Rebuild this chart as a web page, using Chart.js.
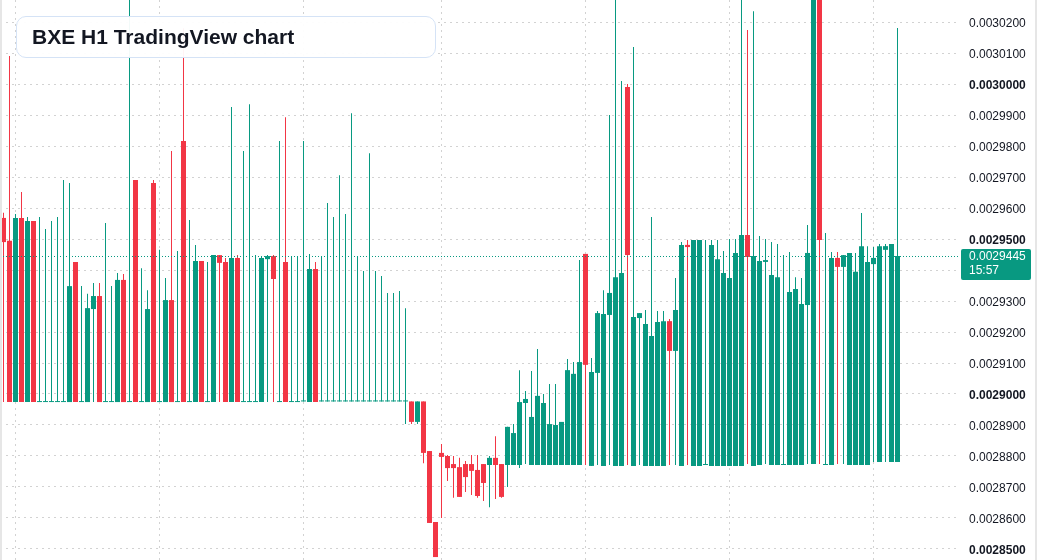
<!DOCTYPE html>
<html>
<head>
<meta charset="utf-8">
<title>BXE H1 TradingView chart</title>
<script src="https://cdn.jsdelivr.net/npm/chart.js@4.4.1/dist/chart.umd.min.js"></script>
<style>
  html, body { margin: 0; padding: 0; background: #fff; }
  #wrap { position: relative; width: 1037px; height: 560px; overflow: hidden; }
  #priceChart { display: block; }
  #title {
    position: absolute; left: 16px; top: 16px; width: 420px; height: 42px;
    box-sizing: border-box; border: 1px solid #d5e3f6; border-radius: 10px;
    background: rgba(255, 255, 255, 0.95);
    font: bold 21px "Liberation Sans", Arial, sans-serif; color: #131722;
    line-height: 40px; padding-left: 15px; white-space: nowrap;
  }
</style>
</head>
<body>
<div id="wrap">
  <canvas id="priceChart" width="1037" height="560"></canvas>
  <div id="title">BXE H1 TradingView chart</div>
</div>
<script>
// H1 candles, oldest first
const opens = [
  0.0029568, 0.0029494, 0.0028974, 0.0029568, 0.0028974, 0.0029558, 0.0028974, 0.0028974, 0.0028974, 0.0028974,
  0.0028974, 0.0028974, 0.0029426, 0.0028974, 0.0028974, 0.0029274, 0.0029316, 0.0028974, 0.0028974, 0.0028974,
  0.0029368, 0.0028974, 0.0029690, 0.0028974, 0.0028974, 0.0029681, 0.0028974, 0.0028974, 0.0029303, 0.0028974,
  0.0029816, 0.0028974, 0.0028974, 0.0029429, 0.0028974, 0.0028974, 0.0029448, 0.0029426, 0.0028974, 0.0029439,
  0.0028974, 0.0028974, 0.0028974, 0.0028974, 0.0029435, 0.0029445, 0.0028974, 0.0029426, 0.0028974, 0.0028974,
  0.0028976, 0.0028974, 0.0029403, 0.0028976, 0.0028976, 0.0028976, 0.0028976, 0.0028976, 0.0028976, 0.0028976,
  0.0028976, 0.0028976, 0.0028976, 0.0028976, 0.0028976, 0.0028976, 0.0028976, 0.0028976, 0.0028976, 0.0028910,
  0.0028976, 0.0028816, 0.0028587, 0.0028810, 0.0028800, 0.0028774, 0.0028764, 0.0028774, 0.0028774, 0.0028755,
  0.0028774, 0.0028771, 0.0028794, 0.0028774, 0.0028771, 0.0028771, 0.0028771, 0.0028971, 0.0028771, 0.0028771,
  0.0028771, 0.0028771, 0.0028771, 0.0028771, 0.0028771, 0.0028771, 0.0028771, 0.0029452, 0.0028768, 0.0029068,
  0.0028768, 0.0029255, 0.0028768, 0.0028768, 0.0029990, 0.0028768, 0.0029245, 0.0028768, 0.0028768, 0.0028768,
  0.0028768, 0.0029235, 0.0029139, 0.0028768, 0.0029481, 0.0028768, 0.0028768, 0.0028771, 0.0028768, 0.0028768,
  0.0028768, 0.0028768, 0.0028768, 0.0028768, 0.0029513, 0.0028768, 0.0028771, 0.0029426, 0.0028771, 0.0028771,
  0.0028771, 0.0028771, 0.0028771, 0.0028771, 0.0029287, 0.0028774, 0.0030400, 0.0028771, 0.0028771, 0.0029439,
  0.0029410, 0.0028771, 0.0028771, 0.0028771, 0.0028771, 0.0029419, 0.0028781, 0.0029465, 0.0028781, 0.0028781
];
const highs = [
  0.0029585, 0.0030090, 0.0029581, 0.0029652, 0.0029571, 0.0029558, 0.0029571, 0.0029532, 0.0029558, 0.0029571,
  0.0029690, 0.0029681, 0.0029426, 0.0029348, 0.0029323, 0.0029358, 0.0029358, 0.0029552, 0.0029348, 0.0029390,
  0.0029387, 0.0030350, 0.0029690, 0.0029406, 0.0029335, 0.0029690, 0.0029465, 0.0029374, 0.0029784, 0.0029461,
  0.0030180, 0.0029561, 0.0029481, 0.0029429, 0.0029426, 0.0029448, 0.0029448, 0.0029439, 0.0029926, 0.0029448,
  0.0029784, 0.0029935, 0.0029448, 0.0029445, 0.0029448, 0.0029448, 0.0029816, 0.0029893, 0.0029445, 0.0029445,
  0.0029816, 0.0029452, 0.0029426, 0.0029442, 0.0029616, 0.0029571, 0.0029706, 0.0029581, 0.0029906, 0.0029442,
  0.0029397, 0.0029777, 0.0029397, 0.0029381, 0.0029326, 0.0029326, 0.0029332, 0.0029277, 0.0028976, 0.0028976,
  0.0028976, 0.0028816, 0.0028587, 0.0028839, 0.0028803, 0.0028800, 0.0028794, 0.0028784, 0.0028803, 0.0028803,
  0.0028774, 0.0028800, 0.0028864, 0.0028774, 0.0028894, 0.0028903, 0.0029077, 0.0029010, 0.0029074, 0.0029145,
  0.0029000, 0.0029032, 0.0029032, 0.0028910, 0.0029113, 0.0029103, 0.0029432, 0.0029452, 0.0029116, 0.0029268,
  0.0029335, 0.0029900, 0.0030350, 0.0030010, 0.0030000, 0.0030119, 0.0029261, 0.0029271, 0.0029571, 0.0029268,
  0.0029268, 0.0029242, 0.0029374, 0.0029490, 0.0029497, 0.0029497, 0.0029497, 0.0029497, 0.0029497, 0.0029497,
  0.0029461, 0.0029500, 0.0029500, 0.0030350, 0.0030174, 0.0030235, 0.0029510, 0.0029500, 0.0029490, 0.0029484,
  0.0029448, 0.0029458, 0.0029377, 0.0029374, 0.0029545, 0.0030400, 0.0030400, 0.0029519, 0.0029458, 0.0029458,
  0.0029448, 0.0029455, 0.0029455, 0.0029584, 0.0029477, 0.0029474, 0.0029484, 0.0029484, 0.0029484, 0.0030181
];
const lows = [
  0.0028974, 0.0028974, 0.0028974, 0.0028974, 0.0028974, 0.0028974, 0.0028974, 0.0028974, 0.0028974, 0.0028974,
  0.0028974, 0.0028974, 0.0028974, 0.0028974, 0.0028974, 0.0028974, 0.0028974, 0.0028974, 0.0028974, 0.0028974,
  0.0028974, 0.0028974, 0.0028974, 0.0028974, 0.0028974, 0.0028974, 0.0028974, 0.0028974, 0.0028974, 0.0028974,
  0.0028974, 0.0028974, 0.0028974, 0.0028974, 0.0028974, 0.0028974, 0.0028974, 0.0028974, 0.0028974, 0.0028974,
  0.0028974, 0.0028974, 0.0028974, 0.0028974, 0.0028974, 0.0028974, 0.0028974, 0.0028974, 0.0028974, 0.0028974,
  0.0028976, 0.0028974, 0.0028974, 0.0028976, 0.0028976, 0.0028976, 0.0028976, 0.0028976, 0.0028976, 0.0028976,
  0.0028976, 0.0028976, 0.0028976, 0.0028976, 0.0028976, 0.0028976, 0.0028976, 0.0028903, 0.0028903, 0.0028903,
  0.0028777, 0.0028584, 0.0028474, 0.0028600, 0.0028719, 0.0028665, 0.0028668, 0.0028684, 0.0028674, 0.0028665,
  0.0028655, 0.0028635, 0.0028661, 0.0028665, 0.0028700, 0.0028771, 0.0028761, 0.0028774, 0.0028771, 0.0028771,
  0.0028771, 0.0028771, 0.0028771, 0.0028771, 0.0028771, 0.0028771, 0.0028771, 0.0028771, 0.0028768, 0.0028771,
  0.0028768, 0.0028771, 0.0028768, 0.0028768, 0.0028771, 0.0028768, 0.0028771, 0.0028768, 0.0028768, 0.0028768,
  0.0028768, 0.0028771, 0.0028771, 0.0028768, 0.0028771, 0.0028768, 0.0028768, 0.0028771, 0.0028768, 0.0028768,
  0.0028768, 0.0028768, 0.0028768, 0.0028768, 0.0028774, 0.0028768, 0.0028771, 0.0028774, 0.0028771, 0.0028771,
  0.0028771, 0.0028771, 0.0028771, 0.0028771, 0.0028774, 0.0028774, 0.0028774, 0.0028771, 0.0028771, 0.0028774,
  0.0028774, 0.0028771, 0.0028771, 0.0028771, 0.0028771, 0.0028781, 0.0028781, 0.0028781, 0.0028781, 0.0028781
];
const closes = [
  0.0029490, 0.0028974, 0.0029568, 0.0028974, 0.0029558, 0.0028974, 0.0028974, 0.0028974, 0.0028974, 0.0028974,
  0.0028974, 0.0029348, 0.0028974, 0.0028974, 0.0029277, 0.0029316, 0.0028974, 0.0028974, 0.0028974, 0.0029368,
  0.0028974, 0.0028974, 0.0028974, 0.0028974, 0.0029274, 0.0028974, 0.0028974, 0.0029303, 0.0028974, 0.0028974,
  0.0028974, 0.0028974, 0.0029429, 0.0028974, 0.0028974, 0.0029448, 0.0029423, 0.0028974, 0.0029439, 0.0028974,
  0.0028974, 0.0028974, 0.0028974, 0.0029439, 0.0029445, 0.0029371, 0.0028974, 0.0028974, 0.0028974, 0.0028974,
  0.0028976, 0.0029403, 0.0028974, 0.0028976, 0.0028976, 0.0028976, 0.0028976, 0.0028976, 0.0028976, 0.0028976,
  0.0028976, 0.0028976, 0.0028976, 0.0028976, 0.0028976, 0.0028976, 0.0028976, 0.0028976, 0.0028910, 0.0028976,
  0.0028810, 0.0028584, 0.0028474, 0.0028797, 0.0028761, 0.0028761, 0.0028668, 0.0028732, 0.0028752, 0.0028671,
  0.0028713, 0.0028794, 0.0028771, 0.0028668, 0.0028894, 0.0028874, 0.0028974, 0.0028984, 0.0028926, 0.0028994,
  0.0028971, 0.0028903, 0.0028900, 0.0028910, 0.0029077, 0.0029065, 0.0029103, 0.0029094, 0.0029071, 0.0029261,
  0.0029258, 0.0029326, 0.0029377, 0.0029390, 0.0029448, 0.0029248, 0.0029261, 0.0029226, 0.0029187, 0.0029232,
  0.0029235, 0.0029139, 0.0029271, 0.0029481, 0.0029474, 0.0029497, 0.0029497, 0.0028771, 0.0029481, 0.0029435,
  0.0029390, 0.0029374, 0.0029455, 0.0029513, 0.0029442, 0.0029445, 0.0029429, 0.0029432, 0.0029384, 0.0029377,
  0.0028771, 0.0029329, 0.0029339, 0.0029290, 0.0029455, 0.0030400, 0.0029497, 0.0028771, 0.0029439, 0.0029410,
  0.0029448, 0.0029455, 0.0029394, 0.0029477, 0.0029426, 0.0029439, 0.0029477, 0.0029477, 0.0029484, 0.0029445
];

// price axis labels, and the ones TradingView prints in bold
const yTicks = [
  0.00285, 0.00286, 0.00287, 0.00288, 0.00289, 0.00290, 0.00291, 0.00292, 0.00293,
  0.00294, 0.00295, 0.00296, 0.00297, 0.00298, 0.00299, 0.00300, 0.00301, 0.00302
];
const boldTicks = ['0.0028500', '0.0029000', '0.0029500', '0.0030000'];
// candles where the daily separator lines fall
const daySeparators = [2, 26, 50, 73, 97, 121, 145];
const countdown = '15:57';

const GREEN = '#089981';
const RED = '#F23645';
const GRID = '#d2d2d2';
const FONT = "'Liberation Sans', Arial, sans-serif";

const candleColors = closes.map((c, i) => c >= opens[i] ? GREEN : RED);
const wickData = closes.map((c, i) => ({ x: i, y: [lows[i], highs[i]] }));
const bodyData = closes.map((c, i) => ({ x: i, y: [Math.min(opens[i], c), Math.max(opens[i], c)] }));
const lastClose = closes[closes.length - 1];

// dotted last-price line plus the green price tag on the axis
const lastPricePlugin = {
    id: 'lastPrice',
    afterDatasetsDraw(chart) {
        const { ctx, chartArea, scales } = chart;
        const y = Math.round(scales.y.getPixelForValue(lastClose)) + 0.5;
        ctx.save();
        ctx.strokeStyle = GREEN;
        ctx.lineWidth = 1;
        ctx.setLineDash([1, 2]);
        ctx.beginPath();
        ctx.moveTo(chartArea.left, y);
        ctx.lineTo(chartArea.right, y);
        ctx.stroke();
        ctx.restore();
    },
    afterDraw(chart) {
        const { ctx, chartArea, scales } = chart;
        const y = Math.round(scales.y.getPixelForValue(lastClose));
        ctx.save();
        // thin panel edges
        ctx.fillStyle = '#e6e6e6';
        ctx.fillRect(0, 0, 2, chart.height);
        ctx.fillRect(chart.width - 2, 0, 2, chart.height);
        // tag
        ctx.fillStyle = GREEN;
        ctx.beginPath();
        ctx.roundRect(chartArea.right + 1, y - 7, 70, 31, 2);
        ctx.fill();
        ctx.fillStyle = '#ffffff';
        ctx.font = '12px ' + FONT;
        ctx.textBaseline = 'middle';
        ctx.textAlign = 'left';
        ctx.fillText(lastClose.toFixed(7), chartArea.right + 9, y + 1);
        ctx.fillText(countdown, chartArea.right + 9, y + 15);
        ctx.restore();
    }
};

new Chart(document.getElementById('priceChart'), {
    type: 'bar',
    data: {
        datasets: [
            {
                label: 'wick',
                data: wickData,
                backgroundColor: candleColors,
                barThickness: 1,
                minBarLength: 1,
                grouped: false,
                inflateAmount: 0,
                borderWidth: 0,
                order: 2
            },
            {
                label: 'body',
                data: bodyData,
                backgroundColor: candleColors,
                barThickness: 5,
                minBarLength: 1,
                grouped: false,
                inflateAmount: 0,
                borderWidth: 0,
                order: 1
            }
        ]
    },
    options: {
        responsive: false,
        animation: false,
        events: [],
        layout: { padding: 0 },
        plugins: { legend: { display: false }, tooltip: { enabled: false } },
        scales: {
            x: {
                type: 'linear',
                offset: false,
                min: -0.5833,
                max: 159.4167,
                border: { display: false, dash: [2, 4] },
                ticks: { display: false },
                grid: { color: GRID, offset: false, drawTicks: false },
                afterBuildTicks: scale => { scale.ticks = daySeparators.map(v => ({ value: v })); },
                afterFit: scale => { scale.height = 0; scale.paddingLeft = 0; scale.paddingRight = 0; }
            },
            y: {
                position: 'right',
                min: 0.00284645,
                max: 0.0030271,
                border: { display: false, dash: [2, 4] },
                grid: { color: GRID, drawTicks: false },
                ticks: {
                    padding: 9,
                    labelOffset: 1.5,
                    color: '#131722',
                    font: ctx => ({
                        family: FONT,
                        size: 12,
                        weight: ctx.tick && boldTicks.includes(ctx.tick.value.toFixed(7)) ? 'bold' : 'normal'
                    }),
                    callback: v => v.toFixed(7)
                },
                afterBuildTicks: scale => { scale.ticks = yTicks.map(v => ({ value: v })); },
                afterFit: scale => { scale.width = 77; scale.paddingTop = 0; scale.paddingBottom = 0; }
            }
        }
    },
    plugins: [lastPricePlugin]
});
</script>
</body>
</html>
